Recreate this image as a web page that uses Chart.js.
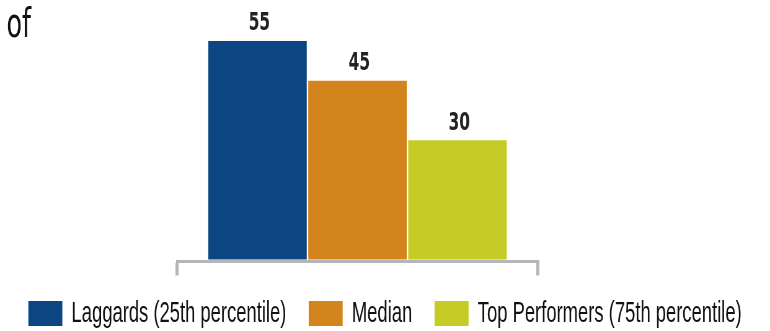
<!DOCTYPE html>
<html>
<head>
<meta charset="utf-8">
<script src="https://cdn.jsdelivr.net/npm/chart.js@4/dist/chart.umd.min.js"></script>
<style>
  html, body { margin: 0; padding: 0; background: #ffffff; }
  #c { display: block; width: 770px; height: 331px; }
</style>
</head>
<body>
<canvas id="c" width="1242" height="331" style="width:770px;height:331px;"></canvas>
<script>
// ---- data ----
const categories = [''];
const seriesNames = ['Laggards (25th percentile)', 'Median', 'Top Performers (75th percentile)'];
const laggards = [55];
const median = [45];
const topPerformers = [30];
const seriesColors = ['#0b4683', '#d4841d', '#c4cc25'];
const headingText = 'of';

const seriesValues = [laggards, median, topPerformers];

const valueLabels = {
  id: 'valueLabels',
  afterDatasetsDraw(chart) {
    const ctx = chart.ctx;
    ctx.save();
    ctx.font = 'bold 25px "DejaVu Sans", sans-serif';
    ctx.fillStyle = '#222222';
    ctx.textAlign = 'center';
    ctx.textBaseline = 'middle';
    chart.data.datasets.forEach((ds, i) => {
      const meta = chart.getDatasetMeta(i);
      meta.data.forEach((bar, j) => {
        ctx.fillText(String(ds.data[j]), bar.x + 3, bar.y - 17);
      });
    });
    ctx.restore();
  }
};

const heading = {
  id: 'heading',
  afterDraw(chart) {
    const ctx = chart.ctx;
    ctx.save();
    ctx.font = '41px "DejaVu Sans", sans-serif';
    ctx.fillStyle = '#111111';
    ctx.textAlign = 'left';
    ctx.textBaseline = 'alphabetic';
    ctx.fillText(headingText, 10.5, 37);
    ctx.restore();
  }
};

new Chart(document.getElementById('c'), {
  type: 'bar',
  data: {
    labels: categories,
    datasets: seriesNames.map((name, i) => ({
      label: name,
      data: seriesValues[i],
      backgroundColor: seriesColors[i],
      borderWidth: 0,
      categoryPercentage: 0.831,
      barPercentage: 0.985
    }))
  },
  options: {
    responsive: false,
    animation: false,
    devicePixelRatio: 1,
    layout: { padding: { top: 21, bottom: -7.35, left: 0, right: 0 } },
    plugins: {
      legend: {
        position: 'bottom',
        labels: {
          boxWidth: 54.8,
          boxHeight: 25,
          padding: 36,
          color: '#111111',
          font: { family: '"Liberation Sans", Arial, sans-serif', size: 29.7 }
        }
      },
      tooltip: { enabled: false },
      title: { display: false }
    },
    scales: {
      x: {
        grid: {
          display: true,
          drawOnChartArea: false,
          drawTicks: true,
          tickLength: 14,
          color: '#b4b6b9',
          lineWidth: 5
        },
        border: { display: true, color: '#b4b6b9', width: 3 },
        ticks: { display: false },
        afterFit(scale) { scale.height = 1.15; }
      },
      y: {
        min: -0.5,
        max: 60,
        display: true,
        position: 'left',
        grid: { display: false },
        border: { display: false },
        ticks: { display: false },
        afterFit(scale) { scale.width = 285.5; }
      },
      yRight: {
        type: 'linear',
        min: 0,
        max: 60,
        display: true,
        position: 'right',
        grid: { display: false },
        border: { display: false },
        ticks: { display: false },
        afterFit(scale) { scale.width = 374.3; }
      }
    }
  },
  plugins: [valueLabels, heading]
});
</script>
</body>
</html>
